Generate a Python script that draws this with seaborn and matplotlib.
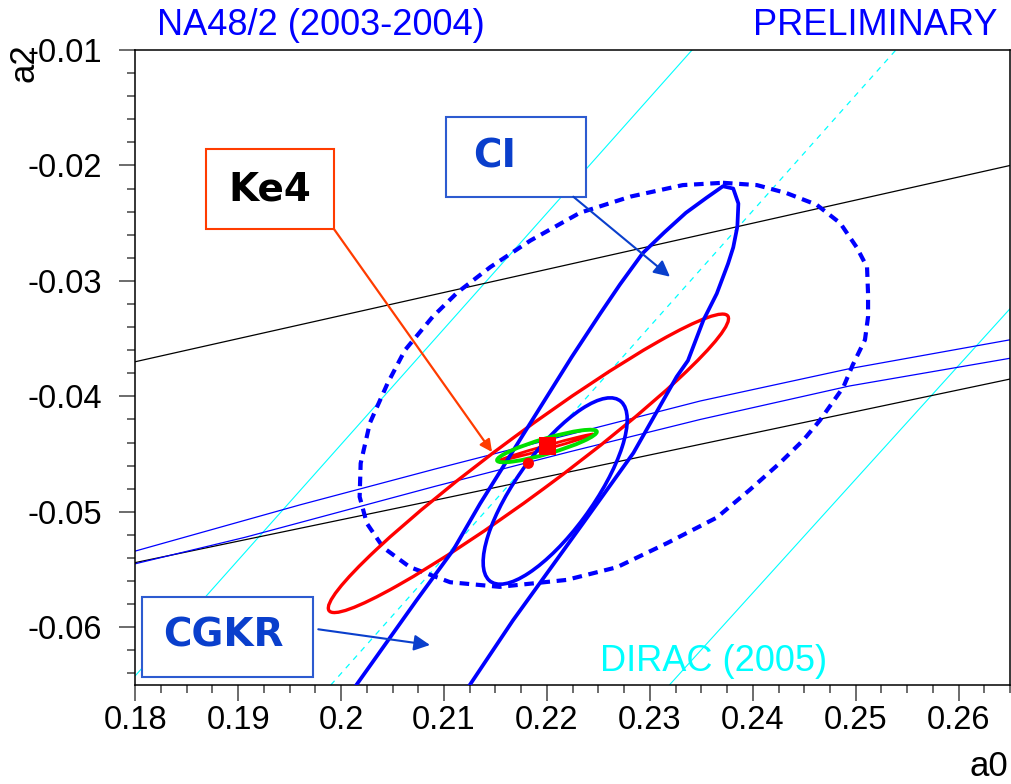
import matplotlib
matplotlib.use("Agg")
import numpy as np
import pandas as pd
import seaborn as sns
import matplotlib.pyplot as plt
from matplotlib.patches import Ellipse, Rectangle
from matplotlib.ticker import MultipleLocator, FuncFormatter

sns.set_style("white")
plt.rcParams['font.family'] = ['Liberation Sans', 'DejaVu Sans']
plt.rcParams['axes.unicode_minus'] = False
plt.rcParams['text.color'] = 'black'
plt.rcParams['xtick.color'] = 'black'
plt.rcParams['ytick.color'] = 'black'

#%% data (a0, a2)
# DIRAC |a0-a2| band (solid edges + central value, dashed)
dirac_lo_x = [0.1800, 0.2341]
dirac_lo_y = [-0.0642, -0.0100]
dirac_mid_x = [0.1990, 0.2539]
dirac_mid_y = [-0.0650, -0.0100]
dirac_hi_x = [0.2319, 0.2650]
dirac_hi_y = [-0.0650, -0.0324]

# black band
black_up_x = [0.1800, 0.2650]
black_up_y = [-0.0370, -0.0200]
black_lo_x = [0.1800, 0.2091, 0.2650]
black_lo_y = [-0.0544, -0.0490, -0.0385]

# thin blue band
blue_up_x = [0.1800, 0.1960, 0.2091, 0.2222, 0.2349, 0.2494, 0.2650]
blue_up_y = [-0.0534, -0.0494, -0.0463, -0.0433, -0.0404, -0.0376, -0.0351]
blue_lo_x = [0.1800, 0.1907, 0.2091, 0.2222, 0.2349, 0.2494, 0.2650]
blue_lo_y = [-0.0545, -0.0522, -0.0478, -0.0448, -0.0420, -0.0391, -0.0367]

# CI contour (dashed)
ci_x = [0.2371, 0.2404, 0.2433, 0.2462, 0.2485, 0.2501, 0.2511, 0.2512, 0.2512, 0.2509,
        0.2497, 0.2488, 0.2465, 0.2449, 0.2426, 0.2397, 0.2365, 0.2317, 0.2268, 0.2219,
        0.2154, 0.2106, 0.2067, 0.2041, 0.2025, 0.2018, 0.2019, 0.2028, 0.2045, 0.2062,
        0.2089, 0.2113, 0.2145, 0.2184, 0.2232, 0.2281, 0.2332, 0.2371]
ci_y = [-0.0215, -0.0217, -0.0224, -0.0234, -0.0250, -0.0271, -0.0288, -0.0311, -0.0331, -0.0351,
        -0.0373, -0.0392, -0.0421, -0.0438, -0.0458, -0.0481, -0.0505, -0.0527, -0.0548, -0.0559,
        -0.0565, -0.0561, -0.0548, -0.0531, -0.0510, -0.0487, -0.0458, -0.0423, -0.0389, -0.0360,
        -0.0331, -0.0310, -0.0288, -0.0265, -0.0241, -0.0227, -0.0217, -0.0215]

# CGKR contour (solid, open below the frame)
cgkr_x = [0.2004, 0.2014, 0.2073, 0.2109, 0.2135, 0.2184, 0.2224, 0.2252, 0.2271, 0.2293,
          0.2314, 0.2335, 0.2355, 0.2371, 0.2381, 0.2386, 0.2385, 0.2381, 0.2376, 0.2365,
          0.2352, 0.2337, 0.2326, 0.2284, 0.2235, 0.2167, 0.2125, 0.2116]
cgkr_y = [-0.0663, -0.0651, -0.0577, -0.0533, -0.0493, -0.0423, -0.0366, -0.0328, -0.0303, -0.0276,
          -0.0258, -0.0241, -0.0228, -0.0218, -0.0220, -0.0233, -0.0253, -0.0271, -0.0285, -0.0311,
          -0.0334, -0.0369, -0.0383, -0.0449, -0.0510, -0.0594, -0.0650, -0.0663]

# ellipses: centre a0, centre a2, full width, full height, angle (deg)
ke4_ell = [0.2182, -0.0458, 0.0464, 0.0053, 33.3]
ke4_inner = [0.2200, -0.0444, 0.0093, 0.0003, 14.0]
green_ell = [0.2200, -0.0443, 0.0100, 0.00134, 14.5]
blue_ell = [0.2208, -0.0482, 0.0201, 0.00725, 50.3]

# central values
square_x, square_y = [0.2201], [-0.0443]
dot_x, dot_y = [0.2182], [-0.0458]

#%%
fig, ax = plt.subplots(figsize=(10.11, 7.84), dpi=100)
ax.set_position([0.1338, 0.1263, 0.8653, 0.8099])


def line(x, y, **kw):
    sns.lineplot(x=x, y=y, sort=False, estimator=None, ax=ax, legend=False, **kw)


cyan = '#00FFFF'
line(dirac_lo_x, dirac_lo_y, color=cyan, lw=0.8, zorder=1)
line(dirac_hi_x, dirac_hi_y, color=cyan, lw=0.8, zorder=1)
line(dirac_mid_x, dirac_mid_y, color=cyan, lw=0.9, linestyle=(0, (4.5, 4.5)), zorder=1)

line(black_up_x, black_up_y, color='black', lw=0.9, zorder=2)
line(black_lo_x, black_lo_y, color='black', lw=0.9, zorder=2)
line(blue_up_x, blue_up_y, color='#0000FF', lw=0.9, zorder=2)
line(blue_lo_x, blue_lo_y, color='#0000FF', lw=0.9, zorder=2)

line(ci_x, ci_y, color='#0000FF', lw=3.0, linestyle=(0, (2.3, 1.6)), zorder=3)

for e, col, lw in [(ke4_ell, '#FF0000', 2.4), (ke4_inner, '#FF0000', 2.0),
                   (blue_ell, '#0000FF', 2.6)]:
    ax.add_patch(Ellipse((e[0], e[1]), e[2], e[3], angle=e[4], fill=False,
                         ec=col, lw=lw, zorder=3))
line(cgkr_x, cgkr_y, color='#0000FF', lw=2.7, zorder=3)
ax.add_patch(Ellipse((green_ell[0], green_ell[1]), green_ell[2], green_ell[3],
                     angle=green_ell[4], fill=False, ec='#00E000', lw=2.8, zorder=4))

sns.scatterplot(x=square_x, y=square_y, marker='s', s=150, color='#FF0000',
                edgecolor='none', ax=ax, zorder=5, legend=False)
sns.scatterplot(x=dot_x, y=dot_y, marker='o', s=64, color='#FF0000',
                edgecolor='none', ax=ax, zorder=5, legend=False)

ax.set_xlim(0.18, 0.265)
ax.set_ylim(-0.065, -0.01)

# axes / ticks
fmt = FuncFormatter(lambda v, p: f"{v:g}")
ax.xaxis.set_major_locator(MultipleLocator(0.01))
ax.xaxis.set_minor_locator(MultipleLocator(0.0025))
ax.yaxis.set_major_locator(MultipleLocator(0.01))
ax.yaxis.set_minor_locator(MultipleLocator(0.002))
ax.xaxis.set_major_formatter(fmt)
ax.yaxis.set_major_formatter(fmt)
ax.tick_params(which='both', direction='out', color='#444444', width=1.1,
               labelcolor='black', top=False, right=False, left=True, bottom=True,
               labelsize=23.5)
ax.tick_params(which='major', length=11.5)
ax.tick_params(which='minor', length=5.8)
ax.tick_params(axis='x', which='major', pad=3)
ax.tick_params(axis='y', which='major', pad=12.5)
for s in ax.spines.values():
    s.set_color('black')
    s.set_linewidth(1.1)
ax.set_xlabel('')
ax.set_ylabel('')

# annotation boxes
comic = ['DejaVu Sans']
boxes = [
    ((0.0808, 0.7181), 0.1463, 0.1260, '#FF3C00', 'Ke4', 'black', (0.154, 0.781)),
    ((0.3552, 0.7690), 0.1600, 0.1250, '#2D5BD0', 'CI', '#0A3FCC', (0.411, 0.832)),
    ((0.0080, 0.0131), 0.1955, 0.1250, '#2D5BD0', 'CGKR', '#0A3FCC', (0.1003, 0.0787)),
]
for (x0, y0), w, h, ec, txt, tc, (tx, ty) in boxes:
    ax.add_patch(Rectangle((x0, y0), w, h, transform=ax.transAxes, facecolor='white',
                           edgecolor=ec, lw=1.5, zorder=6, clip_on=False))
    ax.text(tx, ty, txt, transform=ax.transAxes, ha='center', va='center',
            fontsize=28, fontweight='bold', color=tc, family=comic, zorder=7)

ax.annotate('', xy=(0.4078, 0.3669), xytext=(0.2271, 0.7181), xycoords='axes fraction',
            arrowprops=dict(arrowstyle='-|>', color='#FF3C00', lw=1.6,
                            mutation_scale=18, shrinkA=0, shrinkB=0), zorder=7)
ax.annotate('', xy=(0.6112, 0.6430), xytext=(0.5007, 0.7690), xycoords='axes fraction',
            arrowprops=dict(arrowstyle='-|>', color='#0A3FCC', lw=1.5,
                            mutation_scale=24, shrinkA=0, shrinkB=0), zorder=7)
ax.annotate('', xy=(0.3369, 0.0630), xytext=(0.2092, 0.0877), xycoords='axes fraction',
            arrowprops=dict(arrowstyle='-|>', color='#0A3FCC', lw=1.5,
                            mutation_scale=24, shrinkA=0, shrinkB=0), zorder=7)

# labels
fig.text(0.1553, 0.968, 'NA48/2 (2003-2004)', color='#0000FF', fontsize=26,
         ha='left', va='center')
fig.text(0.987, 0.968, 'PRELIMINARY', color='#0000FF', fontsize=26,
         ha='right', va='center')
ax.text(0.5935, 0.156, 'DIRAC (2005)', color=cyan, fontsize=26, ha='left',
        va='center', transform=fig.transFigure, zorder=7)
fig.text(0.997, 0.010, 'a0', fontsize=25, ha='right', va='baseline')
fig.text(0.0240, 0.9196, 'a2', fontsize=25, ha='center', va='center', rotation=90)

fig.savefig('out.png', dpi=100)
